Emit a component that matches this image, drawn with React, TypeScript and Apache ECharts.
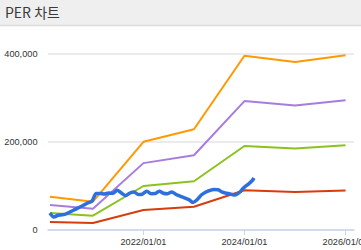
import React, { useEffect, useRef } from "react";
import * as echarts from "echarts";

const title = "PER 차트";
const yTicks = [0, 200000, 400000];
const xTickDates = ["2022-01-01", "2024-01-01", "2026-01-01"];
const annualDates = ["2020-02-25", "2021-01-01", "2022-01-01", "2023-01-01", "2024-01-01", "2025-01-01", "2026-01-01"];
const orangeVals = [75700, 64300, 200500, 229000, 396000, 382000, 397000];
const purpleVals = [56800, 48500, 152000, 170000, 293000, 283000, 295000];
const greenVals = [38500, 32500, 100000, 110700, 191000, 185000, 192500];
const redVals = [18200, 16000, 45500, 53000, 90200, 86400, 90000];

const priceDates = [
  "2020-02-25", "2020-03-25", "2020-04-25", "2020-05-25", "2020-06-25", "2020-07-25", "2020-08-25", "2020-09-25",
  "2020-10-25", "2020-11-25", "2020-12-25", "2021-01-25", "2021-02-25", "2021-03-25", "2021-04-25", "2021-05-25",
  "2021-06-25", "2021-07-25", "2021-08-25", "2021-09-25", "2021-10-25", "2021-11-25", "2021-12-25", "2022-01-25",
  "2022-02-25", "2022-03-25", "2022-04-25", "2022-05-25", "2022-06-25", "2022-07-25", "2022-08-25", "2022-09-25",
  "2022-10-25", "2022-11-25", "2022-12-25", "2023-01-25", "2023-02-25", "2023-03-25", "2023-04-25", "2023-05-25",
  "2023-06-25", "2023-07-25", "2023-08-25", "2023-09-25", "2023-10-25", "2023-11-25", "2023-12-25", "2024-01-25",
  "2024-02-25", "2024-03-10",
];
const priceVals = [
  38600, 29500, 33600, 34500, 37300, 42000, 46800, 51600,
  56400, 61400, 65900, 83000, 83000, 81800, 84100, 83400,
  90200, 84100, 78400, 84100, 86400, 80700, 81800, 88200,
  82500, 82700, 88200, 83600, 82500, 86400, 80700, 76600,
  73000, 69100, 62700, 69300, 80000, 85900, 89800, 92000,
  91400, 85900, 83600, 81400, 79500, 85200, 95500, 103200,
  111800, 118200,
];

const toTs = (s: string) => {
  const [y, m, d] = s.split("-").map(Number);
  return new Date(y, m - 1, d).getTime();
};
const pad = (n: number) => (n < 10 ? "0" + n : "" + n);

export default function App() {
  const ref = useRef<HTMLDivElement>(null);
  useEffect(() => {
    document.body.style.margin = "0";
    const chart = echarts.init(ref.current!, undefined, { renderer: "svg" });
    const mk = (vals: number[], color: string, z: number) => ({
      type: "line",
      data: annualDates.map((d, i) => [toTs(d), vals[i]]),
      showSymbol: false,
      lineStyle: { color, width: 2 },
      itemStyle: { color },
      z,
    });
    const tickTs = xTickDates.map(toTs);
    chart.setOption({
      animation: false,
      graphic: [
        { type: "rect", shape: { x: 0, y: 0, width: 361, height: 25 }, style: { fill: "#efefef" }, z: 0 },
        { type: "line", shape: { x1: 0, y1: 25.5, x2: 361, y2: 25.5 }, style: { stroke: "#dcdcdc", lineWidth: 1.5 } },
        {
          type: "text",
          x: 5,
          y: 5,
          style: { text: title, fill: "#3a3a3a", font: "14px 'Noto Sans CJK KR', 'Noto Sans', sans-serif" },
        },
      ],
      grid: { left: 48, right: 7, top: 54, bottom: 20, containLabel: false, outerBoundsMode: "none" },
      xAxis: {
        type: "value",
        min: toTs("2020-02-11"),
        max: toTs("2026-03-03"),
        axisLine: { show: true, lineStyle: { color: "#ccd6eb", width: 1.5 } },
        axisTick: { show: true, length: 5, lineStyle: { color: "#ccd6eb" }, customValues: tickTs },
        splitLine: { show: false },
        axisLabel: {
          customValues: tickTs,
          color: "#333",
          fontSize: 9.2,
          fontFamily: "Arial, 'Liberation Sans', sans-serif",
          margin: 7,
          hideOverlap: false,
          alignMinLabel: "center",
          alignMaxLabel: "center",
          formatter: (v: number) => {
            const d = new Date(v);
            return d.getFullYear() + "/" + pad(d.getMonth() + 1) + "/" + pad(d.getDate());
          },
        },
      },
      yAxis: {
        type: "value",
        min: 0,
        max: 400000,
        interval: 200000,
        axisLine: { show: false },
        axisTick: { show: false },
        splitLine: { show: true, lineStyle: { color: "#ebebeb", width: 2 } },
        axisLabel: {
          color: "#333",
          fontSize: 9.2,
          fontFamily: "Arial, 'Liberation Sans', sans-serif",
          margin: 10.5,
          formatter: (v: number) => (yTicks.includes(v) ? v.toLocaleString("en-US") : ""),
        },
      },
      series: [
        mk(orangeVals, "#ff9900", 2),
        mk(purpleVals, "#a67ddf", 2),
        mk(greenVals, "#8cc21f", 2),
        mk(redVals, "#d63c0c", 2),
        {
          type: "line",
          data: priceDates.map((d, i) => [toTs(d), priceVals[i]]),
          showSymbol: false,
          smooth: 0.3,
          lineStyle: { color: "#2d6fdc", width: 3.5 },
          itemStyle: { color: "#2d6fdc" },
          z: 3,
        },
      ],
    });
    return () => chart.dispose();
  }, []);
  return <div ref={ref} style={{ width: 361, height: 250 }} />;
}
